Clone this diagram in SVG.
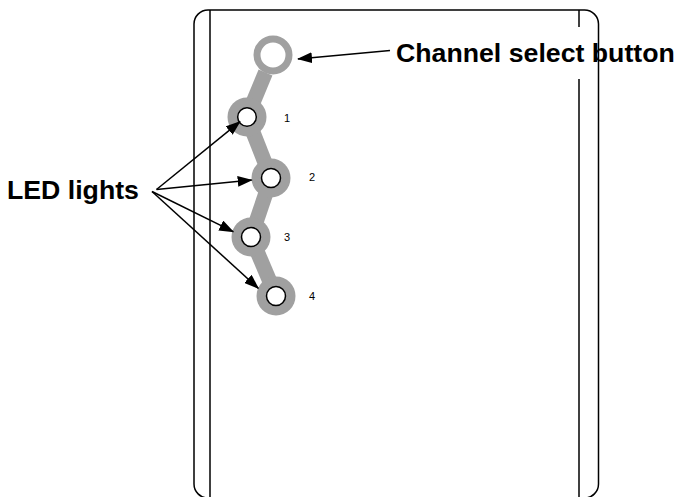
<svg xmlns="http://www.w3.org/2000/svg" width="679" height="497" viewBox="0 0 679 497">
<style>
.frame{fill:none;stroke:#000;stroke-width:1.5}
.band{stroke:#a0a0a0;stroke-width:15;stroke-linecap:butt;fill:none}
.disc{fill:#a0a0a0}
.led{fill:#fff;stroke:#000;stroke-width:1.5}
.ring{fill:#fff;stroke:#a0a0a0;stroke-width:7}
.arrow{stroke:#000;stroke-width:1.5;fill:none;marker-end:url(#ah)}
.lbl{font-family:"Liberation Sans",Arial,sans-serif;font-weight:bold;font-size:26.7px;fill:#000}
.num{font-family:"Liberation Sans",Arial,sans-serif;font-size:11px;fill:#000}
</style>
<defs>
<marker id="ah" markerUnits="userSpaceOnUse" markerWidth="15" markerHeight="11" refX="14" refY="5.5" orient="auto">
<path d="M0,0 L15,5.5 L0,11 z" fill="#000"/>
</marker>
</defs>
<g id="device">
<rect class="frame" x="194" y="10" width="404.5" height="488" rx="14" ry="14"/>
<line class="frame" x1="210" y1="10" x2="210" y2="498"/>
<line class="frame" x1="579" y1="10" x2="579" y2="27"/>
<line class="frame" x1="579" y1="79" x2="579" y2="498"/>
</g>
<g id="bands">
<line class="band" x1="265.5" y1="72.5" x2="247" y2="117"/>
<line class="band" x1="247" y1="117" x2="271" y2="178"/>
<line class="band" x1="271" y1="178" x2="251" y2="237"/>
<line class="band" x1="251" y1="237" x2="276" y2="296"/>
</g>
<g id="button"><circle class="ring" cx="273" cy="55" r="16"/></g>
<g id="led1"><circle class="disc" cx="247" cy="117" r="19.5"/><circle class="led" cx="247" cy="117" r="9.3"/><text class="num" x="284" y="122">1</text></g>
<g id="led2"><circle class="disc" cx="271" cy="178" r="19.5"/><circle class="led" cx="271" cy="178" r="9.5"/><text class="num" x="309" y="181">2</text></g>
<g id="led3"><circle class="disc" cx="251" cy="237" r="19.5"/><circle class="led" cx="251" cy="237" r="9.5"/><text class="num" x="284" y="241">3</text></g>
<g id="led4"><circle class="disc" cx="276" cy="296" r="19.5"/><circle class="led" cx="276" cy="296" r="9.5"/><text class="num" x="309" y="299.5">4</text></g>
<g id="label-channel"><text class="lbl" x="396" y="62">Channel select button</text></g>
<g id="label-led"><text class="lbl" x="7" y="198.5">LED lights</text></g>
<g id="connectors">
<line class="arrow" x1="390" y1="50.5" x2="298" y2="59"/>
<line class="arrow" x1="156.5" y1="189.5" x2="240" y2="121.7"/>
<line class="arrow" x1="156.5" y1="189.5" x2="251.7" y2="180"/>
<line class="arrow" x1="152" y1="191.5" x2="233.3" y2="231.7"/>
<line class="arrow" x1="152" y1="191.5" x2="258.3" y2="288.3"/>
</g>
</svg>
